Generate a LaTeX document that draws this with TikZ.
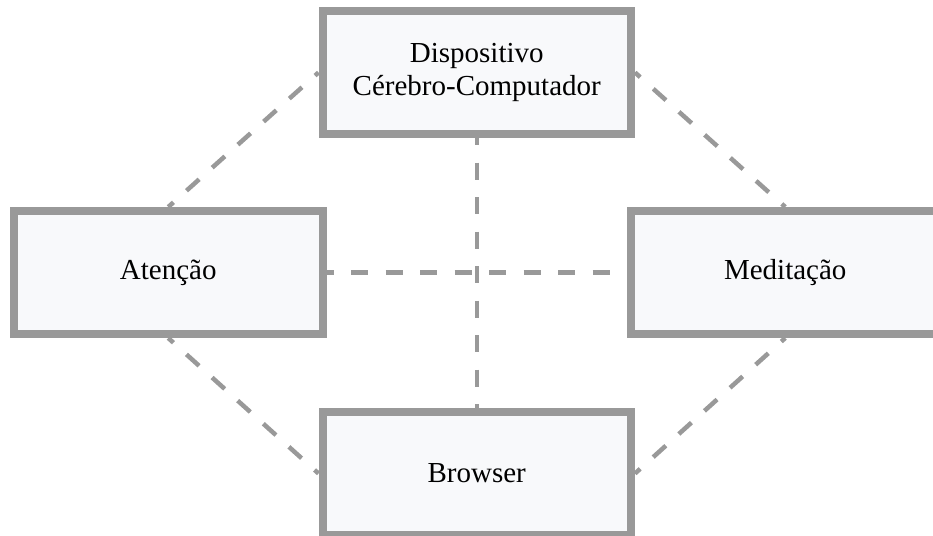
\documentclass[tikz,border=0pt]{standalone}
\usepackage{fontspec}
\setmainfont{Liberation Serif}
\usetikzlibrary{backgrounds}
\definecolor{boxedge}{RGB}{153,153,153}
\definecolor{boxfill}{RGB}{248,249,251}
\definecolor{linkgray}{RGB}{153,153,153}
\tikzset{
  block/.style={draw=boxedge, fill=boxfill, line width=8pt, rectangle,
    minimum width=308.5pt, minimum height=123pt, inner sep=0pt,
    align=center, font=\fontsize{29pt}{33pt}\selectfont},
  link/.style={draw=linkgray, line width=4.5pt,
    dash pattern=on 17pt off 17.5pt, dash phase=10pt}
}
\begin{document}
\begin{tikzpicture}[x=1pt, y=-1pt]
  \useasboundingbox (0,0) rectangle (933,535);
  \clip (0,0) rectangle (933,535);
  % the four blocks
  \node[block] (bci)  at (476.75,72.5)  {Dispositivo\\Cérebro-Computador};
  \node[block] (att)  at (168.25,272.5) {Atenção};
  \node[block] (med)  at (785.25,272.5) {Meditação};
  \node[block] (brw)  at (476.75,473.5) {Browser};
  % dashed links behind the blocks
  \begin{pgfonlayer}{background}
    \draw[link] (att.north) -- (bci.west);
    \draw[link] (bci.east) -- (med.north);
    \draw[link] (att.south) -- (brw.west);
    \draw[link] (brw.east) -- (med.south);
    \draw[link] (bci.south) -- (brw.north);
    \draw[link] (att.east) -- (med.west);
  \end{pgfonlayer}
\end{tikzpicture}
\end{document}
